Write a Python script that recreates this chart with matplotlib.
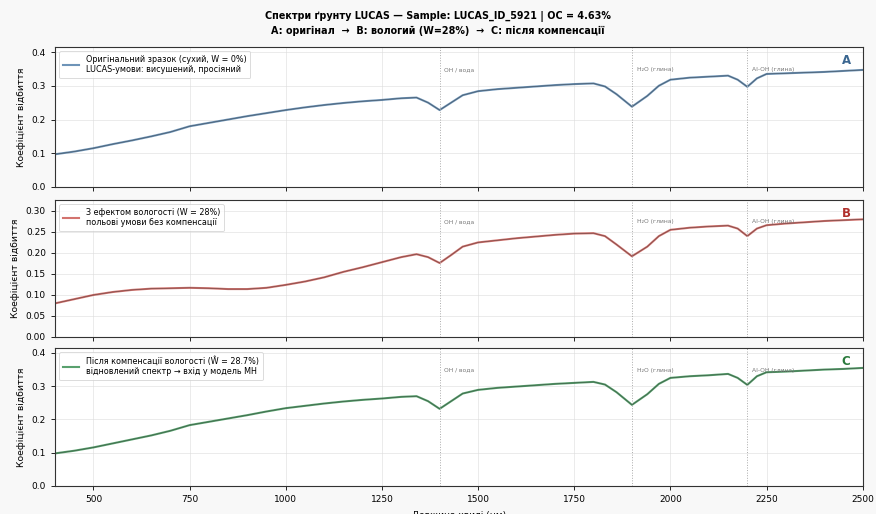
import matplotlib
matplotlib.use("Agg")
import matplotlib.pyplot as plt
import matplotlib.transforms as mtransforms

wavelength = [400, 450, 500, 550, 600, 650, 700, 750, 800, 850, 900, 950, 1000, 1050,
              1100, 1150, 1200, 1250, 1300, 1340, 1370, 1400, 1430, 1460, 1500, 1550,
              1600, 1650, 1700, 1750, 1800, 1830, 1860, 1900, 1940, 1970, 2000, 2050,
              2100, 2150, 2175, 2200, 2225, 2250, 2300, 2350, 2400, 2450, 2500]

refl_dry = [0.097, 0.105, 0.115, 0.127, 0.138, 0.150, 0.163, 0.180, 0.190, 0.200, 0.210,
            0.219, 0.228, 0.236, 0.243, 0.249, 0.254, 0.258, 0.263, 0.265, 0.250, 0.228,
            0.250, 0.272, 0.284, 0.290, 0.294, 0.298, 0.302, 0.305, 0.307, 0.298, 0.275,
            0.238, 0.270, 0.300, 0.318, 0.324, 0.327, 0.330, 0.318, 0.297, 0.322, 0.335,
            0.337, 0.339, 0.341, 0.344, 0.347]

refl_wet = [0.080, 0.090, 0.100, 0.107, 0.112, 0.115, 0.116, 0.117, 0.116, 0.114, 0.114,
            0.117, 0.124, 0.132, 0.142, 0.155, 0.166, 0.178, 0.190, 0.197, 0.190, 0.176,
            0.195, 0.215, 0.225, 0.230, 0.235, 0.239, 0.243, 0.246, 0.247, 0.240, 0.220,
            0.192, 0.215, 0.240, 0.255, 0.260, 0.263, 0.265, 0.258, 0.240, 0.258, 0.266,
            0.270, 0.273, 0.276, 0.278, 0.280]

refl_comp = [0.098, 0.106, 0.116, 0.128, 0.140, 0.152, 0.166, 0.183, 0.193, 0.203, 0.213,
             0.224, 0.234, 0.241, 0.248, 0.254, 0.259, 0.263, 0.268, 0.270, 0.255, 0.232,
             0.255, 0.278, 0.289, 0.295, 0.299, 0.303, 0.307, 0.310, 0.313, 0.305, 0.282,
             0.244, 0.276, 0.307, 0.325, 0.330, 0.333, 0.337, 0.325, 0.304, 0.330, 0.342,
             0.344, 0.347, 0.350, 0.352, 0.355]

band_pos = [1400, 1900, 2200]
band_labels = ["OH / вода", "H₂O (глина)", "Al-OH (глина)"]

series = [refl_dry, refl_wet, refl_comp]
labels = ["Оригінальний зразок (сухий, W = 0%)\nLUCAS-умови: висушений, просіяний",
          "З ефектом вологості (W = 28%)\nпольові умови без компенсації",
          "Після компенсації вологості (Ŵ = 28.7%)\nвідновлений спектр → вхід у модель МН"]
colors = ["#4a7aa6", "#c9504a", "#2f8a4a"]
letter_colors = ["#3a6690", "#b0302c", "#2a7a3c"]
letters = ["A", "B", "C"]
ylims = [0.415, 0.326, 0.415]
yticks = [[0.0, 0.1, 0.2, 0.3, 0.4],
          [0.00, 0.05, 0.10, 0.15, 0.20, 0.25, 0.30],
          [0.0, 0.1, 0.2, 0.3, 0.4]]
ytick_fmt = ["{:.1f}", "{:.2f}", "{:.1f}"]

plt.rcParams['font.family'] = ['DejaVu Sans']
fig = plt.figure(figsize=(8.76, 5.14), dpi=100, facecolor="#f8f8f8")

rects = [(0.0628, 0.6362, 0.922, 0.2724),
         (0.0628, 0.3444, 0.922, 0.2665),
         (0.0628, 0.0545, 0.922, 0.2685)]

axes = []
for i, r in enumerate(rects):
    ax = fig.add_axes(r, sharex=axes[0] if axes else None)
    axes.append(ax)
    ax.set_facecolor("white")
    ax.plot(wavelength, series[i], color=colors[i], lw=1.5, alpha=0.8, label=labels[i])
    ax.plot(wavelength, series[i], color="#2a2a2a", lw=0.5, alpha=0.55)
    ax.set_xlim(400, 2500)
    ax.set_ylim(0, ylims[i])
    ax.set_yticks(yticks[i])
    ax.set_yticklabels([ytick_fmt[i].format(t) for t in yticks[i]])
    ax.tick_params(labelsize=6.5, length=3, width=0.6)
    ax.grid(True, color="#dddddd", lw=0.6, alpha=0.7)
    ax.set_axisbelow(True)
    for s in ax.spines.values():
        s.set_linewidth(0.8)
        s.set_color("#333333")
    ax.set_ylabel("Коефіцієнт відбиття", fontsize=6.7)
    trans = mtransforms.blended_transform_factory(ax.transData, ax.transAxes)
    for bp, bl in zip(band_pos, band_labels):
        ax.axvline(bp, color="#aaaaaa", lw=0.7, ls=":")
        ax.text(bp + 12, 0.84, bl, transform=trans, fontsize=4.3, color="#777777",
                va="center", ha="left")
    ax.text(0.985, 0.90, letters[i], transform=ax.transAxes, fontsize=8.5, fontweight="bold",
            color=letter_colors[i], ha="right", va="center")
    leg = ax.legend(loc="upper left", fontsize=5.8, frameon=True, handlelength=2.0,
                    borderpad=0.5, labelspacing=0.3)
    leg.get_frame().set_linewidth(0.6)
    leg.get_frame().set_edgecolor("#cccccc")
    if i < 2:
        ax.tick_params(labelbottom=False)

axes[2].set_xticks([500, 750, 1000, 1250, 1500, 1750, 2000, 2250, 2500])
axes[2].set_xlabel("Довжина хвилі (нм)", fontsize=6.5, labelpad=5)

fig.text(0.5, 1 - 17 / 514, "Спектри ґрунту LUCAS — Sample: LUCAS_ID_5921 | OC = 4.63%",
         ha="center", va="center", fontsize=6.9, fontweight="bold")
fig.text(0.5, 1 - 31 / 514, "A: оригінал  →  B: вологий (W=28%)  →  C: після компенсації",
         ha="center", va="center", fontsize=6.9, fontweight="bold")

fig.savefig("out.png", dpi=100, facecolor=fig.get_facecolor())
